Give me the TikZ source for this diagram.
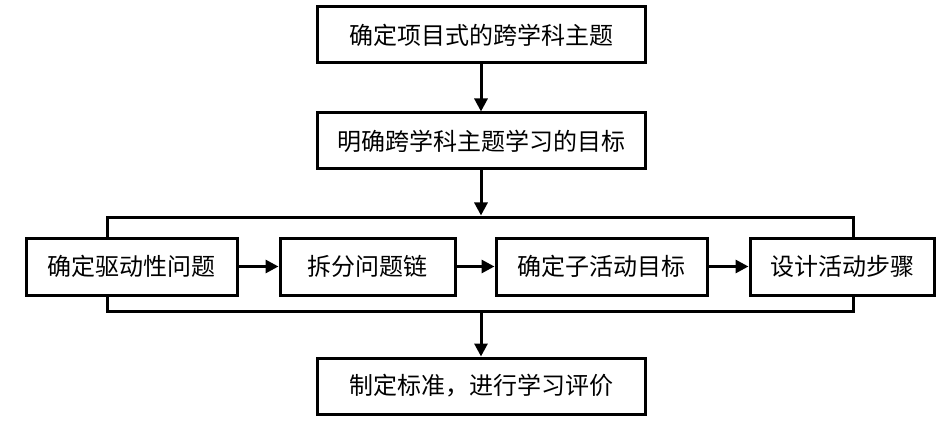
\documentclass[tikz,border=0pt]{standalone}
\usepackage{fontspec}
\newfontfamily\cjk{Noto Sans CJK SC}
\usetikzlibrary{arrows.meta}
\begin{document}
\begin{tikzpicture}[x=1pt,y=-1pt,
  box/.style={draw, line width=3pt, fill=white, inner sep=0pt, font=\cjk\fontsize{24}{26}\selectfont},
  frame/.style={draw, line width=3pt, inner sep=0pt},
  arr/.style={line width=3pt, -{Triangle[width=13pt,length=13pt]}}]
\useasboundingbox (0,0) rectangle (951,425);
\node[frame, minimum width=746pt, minimum height=94pt] (outer) at (480,264) {};
\node[box, minimum width=328pt, minimum height=56pt] (top) at (481,35) {确定项目式的跨学科主题};
\node[box, minimum width=328pt, minimum height=56pt] (goal) at (481,141) {明确跨学科主题学习的目标};
\node[box, minimum width=211pt, minimum height=57pt] (i1) at (131.5,266.5) {确定驱动性问题};
\node[box, minimum width=175pt, minimum height=57pt] (i2) at (367.5,266.5) {拆分问题链};
\node[box, minimum width=211pt, minimum height=57pt] (i3) at (601.5,266.5) {确定子活动目标};
\node[box, minimum width=184pt, minimum height=57pt] (i4) at (842,266.5) {设计活动步骤};
\node[box, minimum width=328pt, minimum height=56pt] (bot) at (481,386) {制定标准，进行学习评价};
\draw[arr] (top.south) -- (goal.north);
\draw[arr] (goal.south) -- (goal.south |- outer.north);
\draw[arr] (bot.north |- outer.south) -- (bot.north);
\draw[arr] (i1.east) -- (i2.west);
\draw[arr] (i2.east) -- (i3.west);
\draw[arr] (i3.east) -- (i4.west);
\end{tikzpicture}
\end{document}
